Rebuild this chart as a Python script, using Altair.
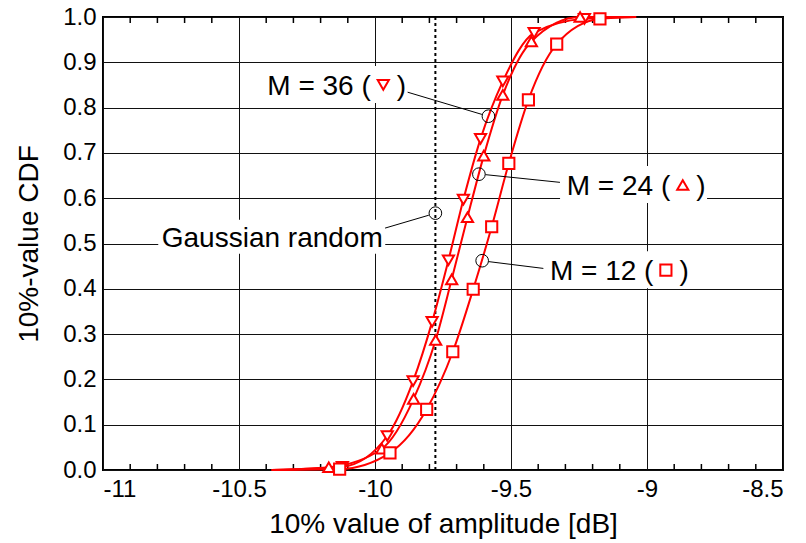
import altair as alt
import pandas as pd

# ---------------- data ----------------
series_names = ["M36", "M24", "M12"]

m36_x = [-10.12, -9.955, -9.86, -9.79, -9.73, -9.675, -9.612, -9.53, -9.415, -9.23]
m36_y = [0.007, 0.075, 0.196, 0.327, 0.463, 0.597, 0.731, 0.858, 0.965, 0.996]

m24_x = [-10.17, -9.975, -9.858, -9.777, -9.718, -9.66, -9.60, -9.53, -9.425, -9.246]
m24_y = [0.006, 0.047, 0.157, 0.287, 0.421, 0.558, 0.694, 0.828, 0.946, 1.0]

m12_x = [-10.13, -9.945, -9.81, -9.714, -9.639, -9.571, -9.508, -9.436, -9.332, -9.173]
m12_y = [0.002, 0.038, 0.134, 0.261, 0.399, 0.537, 0.677, 0.817, 0.940, 0.996]

curve_start = (-10.38, 0.0)
curve_end = (-9.04, 1.0)

gaussian_x = -9.778

x_ticks = [-11, -10.5, -10, -9.5, -9, -8.5]
x_minor = [round(-11 + 0.1 * i, 1) for i in range(26) if i % 5 != 0]
y_ticks = [round(0.1 * i, 1) for i in range(11)]

ann_series = ["M36", "M24", "M12", "G"]
ann_text = ["M = 36 (", "M = 24 (", "M = 12 (", "Gaussian random"]
ann_tx = [-10.396, -9.295, -9.357, -10.784]
ann_ty = [0.828, 0.607, 0.419, 0.493]
ann_cx = [-9.583, -9.618, -9.606, -9.778]
ann_cy = [0.781, 0.653, 0.462, 0.567]
lead_x1 = [-9.880, -9.320, -9.381, -9.963]
lead_y1 = [0.834, 0.635, 0.445, 0.534]
lead_x2 = [-9.607, -9.594, -9.582, -9.802]
lead_y2 = [0.785, 0.652, 0.460, 0.5625]

# ---------------- tables ----------------
series_xy = {"M36": (m36_x, m36_y), "M24": (m24_x, m24_y), "M12": (m12_x, m12_y)}
pts_rows, line_rows = [], []
for s in series_names:
    xs_, ys_ = series_xy[s]
    for x, y in zip(xs_, ys_):
        pts_rows.append({"series": s, "x": x, "y": y})
    line_rows.append({"series": s, "x": curve_start[0], "y": curve_start[1]})
    for x, y in zip(xs_, ys_):
        line_rows.append({"series": s, "x": x, "y": y})
    line_rows.append({"series": s, "x": curve_end[0], "y": curve_end[1]})
pts = pd.DataFrame(pts_rows)
lines = pd.DataFrame(line_rows)

ann = pd.DataFrame({
    "series": ann_series, "text": ann_text, "tx": ann_tx, "ty": ann_ty,
    "cx": ann_cx, "cy": ann_cy, "x1": lead_x1, "y1": lead_y1,
    "x2": lead_x2, "y2": lead_y2,
})
ann_m = ann[ann["series"] != "G"]
ann_g = ann[ann["series"] == "G"]
minor = pd.DataFrame({"x": x_minor})
gline = pd.DataFrame({"x": [gaussian_x]})

FONT = "Liberation Sans"
RED = "#ff0000"
W, H = 680, 453

xs = alt.Scale(domain=[-11, -8.5], nice=False, zero=False)
ys = alt.Scale(domain=[0, 1], nice=False, zero=False)
shape_scale = alt.Scale(domain=series_names, range=["triangle-down", "triangle-up", "square"])
size_scale = alt.Scale(domain=series_names, range=[125, 125, 90])

X = alt.X("x:Q", scale=xs, axis=alt.Axis(
    values=x_ticks, labelExpr="datum.value + ''", grid=True, ticks=False,
    domain=False, title="10% value of amplitude [dB]", labelPadding=7,
    titleY=62, titleBaseline="alphabetic"))
Y = alt.Y("y:Q", scale=ys, axis=alt.Axis(
    values=y_ticks, format=".1f", grid=True, ticks=False, domain=False,
    title="10%-value CDF", labelPadding=7, titleX=-66, titleY=H / 2,
    titleAngle=-90, titleAlign="center", titleBaseline="alphabetic"))

base = alt.Chart(pts)

minor_top = alt.Chart(minor).mark_rule(color="#000", strokeWidth=1.5).encode(
    x=alt.X("x:Q", scale=xs), y=alt.value(0), y2=alt.value(6))
minor_bot = alt.Chart(minor).mark_rule(color="#000", strokeWidth=1.5).encode(
    x=alt.X("x:Q", scale=xs), y=alt.value(H - 6), y2=alt.value(H))

dotted = alt.Chart(gline).mark_rule(color="#000", strokeWidth=2, strokeDash=[3, 3]).encode(
    x=alt.X("x:Q", scale=xs), y=alt.value(0), y2=alt.value(H))

curves = alt.Chart(lines).mark_line(color=RED, strokeWidth=2, interpolate="monotone").encode(
    x=X, y=Y, detail="series:N", order=alt.Order("x:Q"))

markers = base.mark_point(filled=False, fill="white", fillOpacity=1, stroke=RED,
                          strokeWidth=2, opacity=1).encode(
    x=alt.X("x:Q", scale=xs), y=alt.Y("y:Q", scale=ys),
    shape=alt.Shape("series:N", scale=shape_scale, legend=None),
    size=alt.Size("series:N", scale=size_scale, legend=None))

# white label boxes (rectangular symbol paths centred on the label)
box_m = alt.Chart(ann_m).mark_point(
    shape="M-1,-0.252H1V0.252H-1Z", filled=True, color="white", opacity=1,
    size=147 * 147, xOffset=66.8, yOffset=-10.5, strokeWidth=0).encode(
    x=alt.X("tx:Q", scale=xs), y=alt.Y("ty:Q", scale=ys))
box_g = alt.Chart(ann_g).mark_point(
    shape="M-1,-0.15H1V0.15H-1Z", filled=True, color="white", opacity=1,
    size=227 * 227, xOffset=110, yOffset=-10, strokeWidth=0).encode(
    x=alt.X("tx:Q", scale=xs), y=alt.Y("ty:Q", scale=ys))

leaders = alt.Chart(ann).mark_rule(color="#000", strokeWidth=1).encode(
    x=alt.X("x1:Q", scale=xs), y=alt.Y("y1:Q", scale=ys),
    x2="x2:Q", y2="y2:Q")
circles = alt.Chart(ann).mark_point(shape="circle", filled=False, color="#000",
                                    strokeWidth=1, size=160, opacity=1).encode(
    x=alt.X("cx:Q", scale=xs), y=alt.Y("cy:Q", scale=ys))

labels = alt.Chart(ann).mark_text(align="left", baseline="alphabetic", font=FONT,
                                  fontSize=28, color="#000").encode(
    x=alt.X("tx:Q", scale=xs), y=alt.Y("ty:Q", scale=ys), text="text:N")
parens = alt.Chart(ann_m).mark_text(align="left", baseline="alphabetic", font=FONT,
                                    fontSize=28, dx=129.5, color="#000").encode(
    x=alt.X("tx:Q", scale=xs), y=alt.Y("ty:Q", scale=ys), text=alt.value(")"))
syms = alt.Chart(ann_m).mark_point(filled=False, fill="white", fillOpacity=1, stroke=RED,
                                   strokeWidth=2, opacity=1, xOffset=116, yOffset=-10).encode(
    x=alt.X("tx:Q", scale=xs), y=alt.Y("ty:Q", scale=ys),
    shape=alt.Shape("series:N", scale=shape_scale, legend=None),
    size=alt.Size("series:N", scale=size_scale, legend=None))

chart = alt.layer(
    minor_top, minor_bot, dotted, curves, markers,
    box_m, box_g, leaders, circles, labels, parens, syms,
).properties(
    width=W, height=H,
    autosize=alt.AutoSizeParams(type="none"),
    padding={"left": 103, "top": 17, "right": 23, "bottom": 73},
    background="white",
).configure_view(
    stroke="#000", strokeWidth=2,
).configure_axis(
    gridColor="#111", gridWidth=1, gridOpacity=1,
    labelFont=FONT, labelFontSize=24, labelColor="#000",
    titleFont=FONT, titleFontSize=28, titleFontWeight="normal", titleColor="#000",
)

chart.save("out.html", embed_options={"renderer": "svg", "actions": False})
